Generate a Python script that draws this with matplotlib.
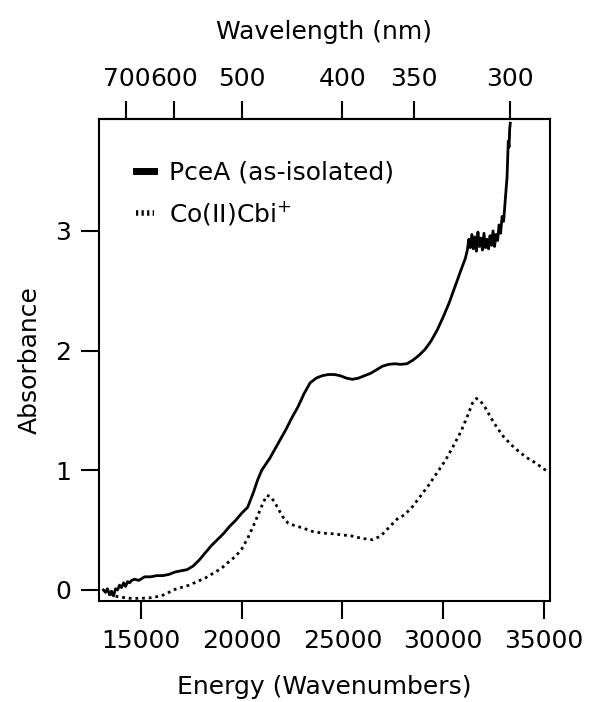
import numpy as np
import matplotlib.pyplot as plt
from matplotlib.lines import Line2D

# PceA (as-isolated) spectrum, energy in cm-1
pcea_x = [13150, 13250, 13350, 13450, 13550, 13650, 13750, 13850, 13950, 14050,
          14150, 14250, 14350, 14450, 14550, 14700, 14900, 15200, 15500, 15800,
          16100, 16400, 16700, 17000, 17300, 17600, 17900, 18200, 18500, 18800,
          19100, 19400, 19700, 20000, 20300, 20600, 20800, 21000, 21200, 21400,
          21600, 21900, 22200, 22500, 22800, 23100, 23400, 23700, 24000, 24300,
          24600, 24900, 25200, 25500, 25800, 26100, 26400, 26700, 27000, 27300,
          27600, 27900, 28200, 28500, 28800, 29100, 29400, 29700, 30000, 30300,
          30600, 30900, 31100,
          31200, 31275, 31350, 31425, 31500, 31575, 31650, 31725, 31800, 31875,
          31950, 32025, 32100, 32175, 32250, 32325, 32400, 32475, 32550, 32625,
          32700, 32775, 32850, 32925, 33000, 33100, 33170, 33230, 33270, 33300, 33330]
pcea_y = [0.00, -0.02, 0.01, -0.04, -0.01, -0.05, 0.01, 0.00, 0.04, 0.02,
          0.06, 0.03, 0.07, 0.06, 0.08, 0.09, 0.08, 0.11, 0.11, 0.12,
          0.12, 0.13, 0.15, 0.16, 0.17, 0.20, 0.25, 0.31, 0.37, 0.42,
          0.47, 0.53, 0.58, 0.64, 0.69, 0.82, 0.92, 1.00, 1.05, 1.10,
          1.16, 1.25, 1.34, 1.44, 1.53, 1.64, 1.73, 1.77, 1.79, 1.80,
          1.80, 1.79, 1.77, 1.76, 1.77, 1.79, 1.81, 1.84, 1.87, 1.885,
          1.89, 1.885, 1.89, 1.92, 1.96, 2.01, 2.08, 2.17, 2.28, 2.40,
          2.54, 2.68, 2.77,
          2.84, 2.93, 2.86, 2.97, 2.85, 2.95, 2.83, 2.99, 2.87, 2.94,
          2.84, 2.98, 2.86, 2.93, 2.85, 2.96, 2.88, 3.00, 2.87, 2.97,
          2.92, 3.05, 2.98, 3.12, 3.08, 3.30, 3.45, 3.75, 3.70, 3.85, 3.90]

# Co(II)Cbi+ spectrum
cbi_x = [13450, 13700, 14000, 14500, 15000, 15500, 16000, 16300, 16600, 17000,
         17400, 17800, 18200, 18600, 19000, 19400, 19700, 20000, 20300, 20600,
         20850, 21050, 21250, 21450, 21650, 21850, 22050, 22300, 22600, 23000,
         23500, 24000, 24500, 25000, 25500, 26000, 26500, 26900, 27300, 27700,
         28100, 28500, 28900, 29300, 29700, 30100, 30500, 30900, 31200, 31450,
         31650, 31850, 32100, 32400, 32700, 33000, 33400, 33800, 34200, 34600,
         35000, 35300]
cbi_y = [-0.03, -0.05, -0.06, -0.07, -0.07, -0.065, -0.05, -0.03, 0.00, 0.02,
         0.04, 0.07, 0.10, 0.14, 0.18, 0.24, 0.28, 0.34, 0.43, 0.54,
         0.64, 0.72, 0.79, 0.78, 0.73, 0.67, 0.61, 0.56, 0.54, 0.52,
         0.49, 0.475, 0.47, 0.46, 0.45, 0.43, 0.42, 0.45, 0.52, 0.59,
         0.63, 0.70, 0.79, 0.88, 0.98, 1.08, 1.20, 1.33, 1.45, 1.56,
         1.60, 1.58, 1.52, 1.43, 1.35, 1.28, 1.21, 1.15, 1.10, 1.06,
         1.01, 0.98]

energy_ticks = [15000, 20000, 25000, 30000, 35000]
abs_ticks = [0, 1, 2, 3]
wl_ticks = [700, 600, 500, 400, 350, 300]

fs = 18

fig = plt.figure(figsize=(5.9, 7.02), dpi=100)
ax = fig.add_axes([0.1678, 0.1439, 0.7644, 0.6866])

ax.plot(pcea_x, pcea_y, color='black', lw=2)
ax.plot(cbi_x, cbi_y, color='black', lw=2, linestyle=(0, (1, 1.4)))

ax.set_xlim(12930, 35300)
ax.set_ylim(-0.092, 3.935)
ax.set_xticks(energy_ticks)
ax.set_yticks(abs_ticks)
for s in ax.spines.values():
    s.set_linewidth(1.5)
ax.tick_params(direction='out', length=13, width=1.5, labelsize=fs, pad=7)
ax.set_xlabel('Energy (Wavenumbers)', fontsize=fs, labelpad=16)
ax.set_ylabel('Absorbance', fontsize=fs, labelpad=10)


def inv(x):
    x = np.asarray(x, dtype=float)
    with np.errstate(divide='ignore'):
        return 1e7 / x


sec = ax.secondary_xaxis('top', functions=(inv, inv))
sec.set_xticks(wl_ticks)
sec.set_xticklabels([str(t) for t in wl_ticks])
sec.spines['top'].set_linewidth(1.5)
sec.tick_params(direction='out', length=13, width=1.5, labelsize=fs, pad=7)
sec.set_xlabel('Wavelength (nm)', fontsize=fs, labelpad=20)

handles = [Line2D([], [], color='black', lw=5),
           Line2D([], [], color='black', lw=4, linestyle=(0, (0.4, 0.6)))]
ax.legend(handles, ['PceA (as-isolated)', 'Co(II)Cbi$^{+}$'], loc='upper left',
          bbox_to_anchor=(0.06, 0.935), frameon=False, fontsize=fs,
          handlelength=0.7, handletextpad=0.6, labelspacing=0.6, borderaxespad=0)

fig.savefig('out.png', dpi=100)
